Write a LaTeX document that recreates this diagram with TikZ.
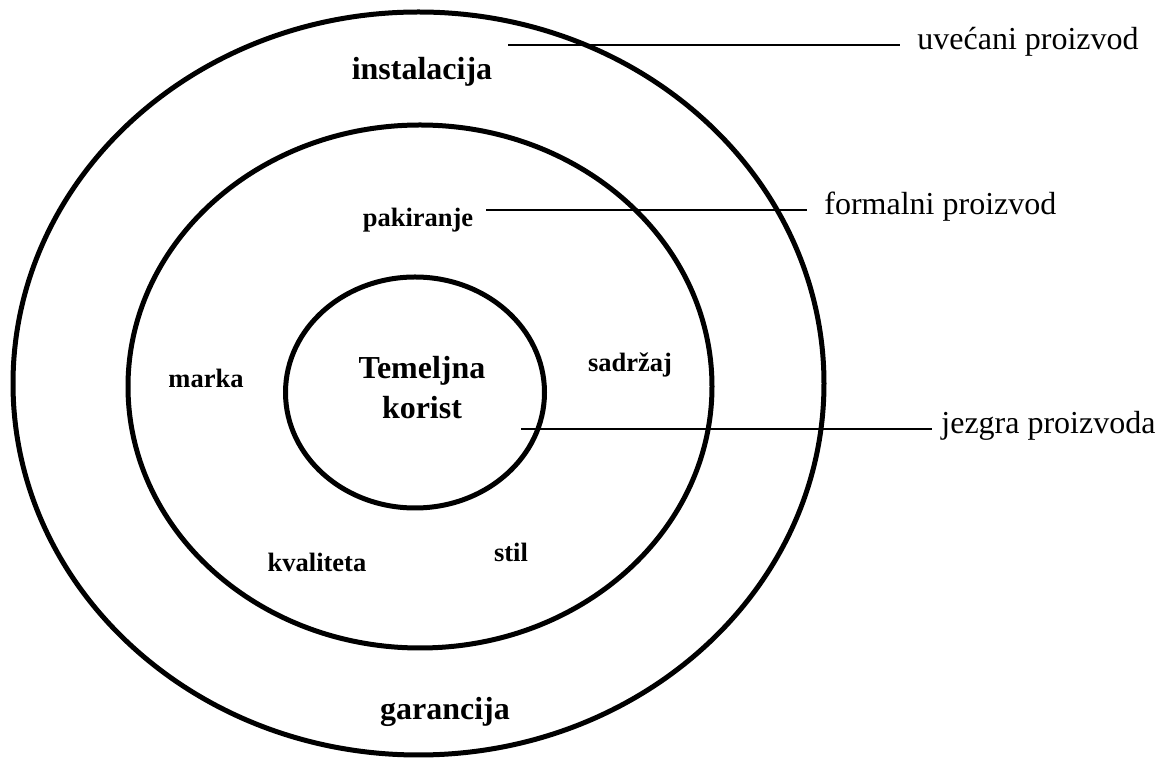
\documentclass[tikz,border=0pt]{standalone}
\usepackage{fontspec}
\setmainfont{Liberation Serif}
\usepackage{tikz}

\tikzset{
  ring/.style={line width=2.5pt},
  lead/.style={line width=1pt},
  part/.style={font=\fontsize{13.25}{16}\selectfont\bfseries, anchor=base, inner sep=0pt},
  bigpart/.style={font=\fontsize{16}{20}\selectfont\bfseries, anchor=base, inner sep=0pt},
  level/.style={font=\fontsize{16}{20}\selectfont, anchor=mid west, inner sep=0pt},
}

\begin{document}
\begin{tikzpicture}[x=0.5pt, y=-0.5pt]
  \useasboundingbox (0,0) rectangle (1164,758);

  % Rings
  \draw[ring] (418.5,383.5) ellipse [x radius=202.75pt, y radius=185.75pt];
  \draw[ring] (420,386.5) ellipse [x radius=146pt, y radius=130.75pt];
  \draw[ring] (415,392.5) ellipse [x radius=64.75pt, y radius=57.75pt];

  % Core
  \node[bigpart, anchor=center, align=center] (korist) at (422,388) {Temeljna\\korist};

  % Formal product
  \node[part] (pakiranje) at (418,227) {pakiranje};
  \node[part] (marka) at (206,388) {marka};
  \node[part] (sadrzaj) at (630,372) {sadržaj};
  \node[part] (kvaliteta) at (317,572) {kvaliteta};
  \node[part] (stil) at (511,562) {stil};

  % Augmented product
  \node[bigpart] (instalacija) at (422,80) {instalacija};
  \node[bigpart] (garancija) at (445,720) {garancija};

  % Levels on the right
  \node[level] (uvecani) at (917,45) {uvećani proizvod};
  \node[level] (formalni) at (824,210) {formalni proizvod};
  \node[level] (jezgra) at (941,429) {jezgra proizvoda};

  \coordinate (uvecanistart) at (508,45);
  \coordinate (formalnistart) at (486,210);
  \coordinate (jezgrastart) at (521,429);

  \draw[lead, shorten >=8.5pt] (uvecanistart) -- (uvecani.mid west);
  \draw[lead, shorten >=8.5pt] (formalnistart) -- (formalni.mid west);
  \draw[lead, shorten >=4.5pt] (jezgrastart) -- (jezgra.mid west);
\end{tikzpicture}
\end{document}
